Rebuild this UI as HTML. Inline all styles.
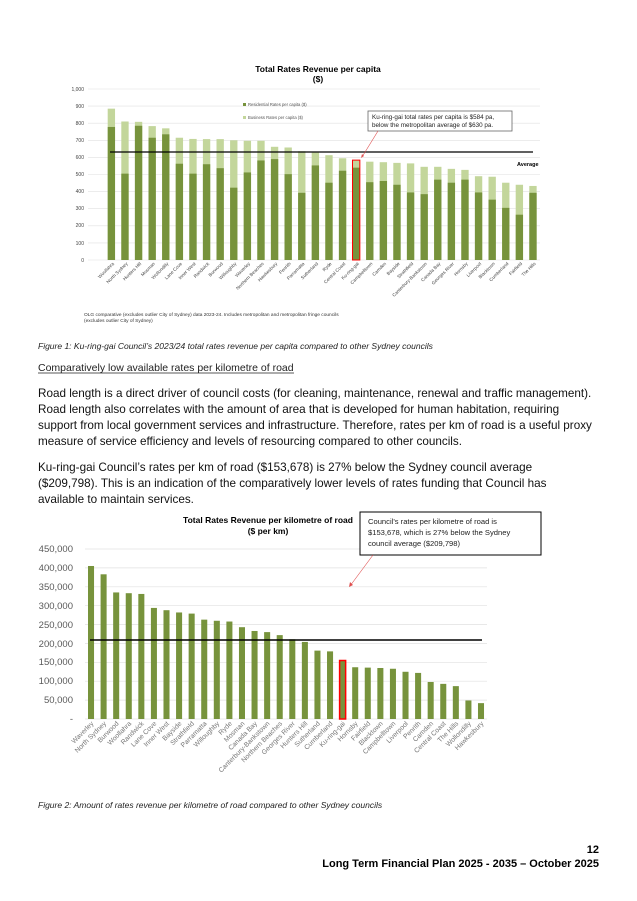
<!DOCTYPE html>
<html><head><meta charset="utf-8"><style>
html,body{margin:0;padding:0;background:#fff}
svg{display:block;font-family:"Liberation Sans",Arial,sans-serif}
</style></head><body>
<svg width="637" height="901" viewBox="0 0 637 901" xmlns="http://www.w3.org/2000/svg">
<!-- Chart 1 -->
<text x="318" y="72" font-size="8.5" font-weight="bold" text-anchor="middle">Total Rates Revenue per capita</text>
<text x="318" y="82" font-size="8.5" font-weight="bold" text-anchor="middle">($)</text>
<g stroke="#e0e0e0" stroke-width="0.6">
<line x1="88" x2="540" y1="89" y2="89"/><line x1="88" x2="540" y1="106.1" y2="106.1"/><line x1="88" x2="540" y1="123.2" y2="123.2"/><line x1="88" x2="540" y1="140.3" y2="140.3"/><line x1="88" x2="540" y1="157.4" y2="157.4"/><line x1="88" x2="540" y1="174.5" y2="174.5"/><line x1="88" x2="540" y1="191.6" y2="191.6"/><line x1="88" x2="540" y1="208.7" y2="208.7"/><line x1="88" x2="540" y1="225.8" y2="225.8"/><line x1="88" x2="540" y1="242.9" y2="242.9"/><line x1="88" x2="540" y1="260" y2="260"/>
</g>
<g font-size="5" fill="#444" text-anchor="end">
<text x="84" y="91">1,000</text><text x="84" y="108">900</text><text x="84" y="125">800</text><text x="84" y="142">700</text><text x="84" y="159">600</text><text x="84" y="176">500</text><text x="84" y="193">400</text><text x="84" y="210">300</text><text x="84" y="227">200</text><text x="84" y="245">100</text><text x="84" y="262">0</text>
</g>
<g transform="translate(107.7 260) scale(13.6 -0.171)">
<g fill="#c3d69b">
<rect x="0" width="0.54" height="885"/><rect x="1" width="0.54" height="810"/><rect x="2" width="0.54" height="808"/><rect x="3" width="0.54" height="783"/><rect x="4" width="0.54" height="770"/><rect x="5" width="0.54" height="715"/><rect x="6" width="0.54" height="708"/><rect x="7" width="0.54" height="707"/><rect x="8" width="0.54" height="707"/><rect x="9" width="0.54" height="700"/><rect x="10" width="0.54" height="697"/><rect x="11" width="0.54" height="697"/><rect x="12" width="0.54" height="662"/><rect x="13" width="0.54" height="658"/><rect x="14" width="0.54" height="636"/><rect x="15" width="0.54" height="628"/><rect x="16" width="0.54" height="613"/><rect x="17" width="0.54" height="595"/><rect x="18" width="0.54" height="584"/><rect x="19" width="0.54" height="575"/><rect x="20" width="0.54" height="572"/><rect x="21" width="0.54" height="568"/><rect x="22" width="0.54" height="565"/><rect x="23" width="0.54" height="545"/><rect x="24" width="0.54" height="545"/><rect x="25" width="0.54" height="533"/><rect x="26" width="0.54" height="527"/><rect x="27" width="0.54" height="490"/><rect x="28" width="0.54" height="487"/><rect x="29" width="0.54" height="452"/><rect x="30" width="0.54" height="440"/><rect x="31" width="0.54" height="433"/>
</g>
<g fill="#77933c">
<rect x="0" width="0.54" height="778"/><rect x="1" width="0.54" height="505"/><rect x="2" width="0.54" height="785"/><rect x="3" width="0.54" height="715"/><rect x="4" width="0.54" height="735"/><rect x="5" width="0.54" height="563"/><rect x="6" width="0.54" height="505"/><rect x="7" width="0.54" height="560"/><rect x="8" width="0.54" height="537"/><rect x="9" width="0.54" height="423"/><rect x="10" width="0.54" height="512"/><rect x="11" width="0.54" height="582"/><rect x="12" width="0.54" height="590"/><rect x="13" width="0.54" height="502"/><rect x="14" width="0.54" height="393"/><rect x="15" width="0.54" height="553"/><rect x="16" width="0.54" height="452"/><rect x="17" width="0.54" height="522"/><rect x="18" width="0.54" height="540"/><rect x="19" width="0.54" height="455"/><rect x="20" width="0.54" height="462"/><rect x="21" width="0.54" height="440"/><rect x="22" width="0.54" height="395"/><rect x="23" width="0.54" height="385"/><rect x="24" width="0.54" height="470"/><rect x="25" width="0.54" height="452"/><rect x="26" width="0.54" height="470"/><rect x="27" width="0.54" height="395"/><rect x="28" width="0.54" height="353"/><rect x="29" width="0.54" height="305"/><rect x="30" width="0.54" height="265"/><rect x="31" width="0.54" height="393"/>
</g>
<rect x="18" width="0.54" height="584" fill="none" stroke="#ff0000" stroke-width="1" vector-effect="non-scaling-stroke"/>
</g>
<line x1="110" x2="533" y1="152" y2="152" stroke="#000" stroke-width="1.2"/>
<text x="517" y="166" font-size="5.5" font-weight="bold">Average</text>
<rect x="243" y="103" width="3" height="3" fill="#77933c"/><text x="248" y="106" font-size="4.2" fill="#555">Residential Rates per capita ($)</text>
<rect x="243" y="116" width="3" height="3" fill="#c3d69b"/><text x="248" y="119" font-size="4.2" fill="#555">Business Rates per capita ($)</text>
<rect x="368" y="111" width="144" height="20" fill="#fff" stroke="#666" stroke-width="0.8"/>
<text x="372" y="119" font-size="6.3" fill="#222">Ku-ring-gai total rates per capita is $584 pa,</text>
<text x="372" y="127" font-size="6.3" fill="#222">below the metropolitan average of $630 pa.</text>
<line x1="378" y1="131" x2="362" y2="157" stroke="#e05050" stroke-width="0.6"/>
<polygon points="361,158 362,154 364,156" fill="#e05050"/>
<g font-size="4.6" fill="#444" text-anchor="end">
<text transform="translate(114.4 264) rotate(-45)">Woollahra</text><text transform="translate(128 264) rotate(-45)">North Sydney</text><text transform="translate(141.6 264) rotate(-45)">Hunters Hill</text><text transform="translate(155.2 264) rotate(-45)">Mosman</text><text transform="translate(168.8 264) rotate(-45)">Wollondilly</text><text transform="translate(182.4 264) rotate(-45)">Lane Cove</text><text transform="translate(196 264) rotate(-45)">Inner West</text><text transform="translate(209.6 264) rotate(-45)">Randwick</text><text transform="translate(223.2 264) rotate(-45)">Burwood</text><text transform="translate(236.8 264) rotate(-45)">Willoughby</text><text transform="translate(250.4 264) rotate(-45)">Waverley</text><text transform="translate(264 264) rotate(-45)">Northern Beaches</text><text transform="translate(277.6 264) rotate(-45)">Hawkesbury</text><text transform="translate(291.2 264) rotate(-45)">Penrith</text><text transform="translate(304.8 264) rotate(-45)">Parramatta</text><text transform="translate(318.4 264) rotate(-45)">Sutherland</text><text transform="translate(332 264) rotate(-45)">Ryde</text><text transform="translate(345.6 264) rotate(-45)">Central Coast</text><text transform="translate(359.2 264) rotate(-45)">Ku-ring-gai</text><text transform="translate(372.8 264) rotate(-45)">Campbelltown</text><text transform="translate(386.4 264) rotate(-45)">Camden</text><text transform="translate(400 264) rotate(-45)">Bayside</text><text transform="translate(413.6 264) rotate(-45)">Strathfield</text><text transform="translate(427.2 264) rotate(-45)">Canterbury-Bankstown</text><text transform="translate(440.8 264) rotate(-45)">Canada Bay</text><text transform="translate(454.4 264) rotate(-45)">Georges River</text><text transform="translate(468 264) rotate(-45)">Hornsby</text><text transform="translate(481.6 264) rotate(-45)">Liverpool</text><text transform="translate(495.2 264) rotate(-45)">Blacktown</text><text transform="translate(508.8 264) rotate(-45)">Cumberland</text><text transform="translate(522.4 264) rotate(-45)">Fairfield</text><text transform="translate(536 264) rotate(-45)">The Hills</text>
</g>
<text x="84" y="316" font-size="4.8" fill="#333">OLG comparative (excludes outlier City of Sydney) data 2023-24. Includes metropolitan and metropolitan fringe councils</text>
<text x="84" y="322" font-size="4.8" fill="#333">(excludes outlier City of Sydney)</text>

<!-- Text -->
<text x="38" y="349" font-size="8.5" font-style="italic" fill="#222">Figure 1: Ku-ring-gai Council’s 2023/24 total rates revenue per capita compared to other Sydney councils</text>
<text x="38" y="371" font-size="10.5" fill="#222">Comparatively low available rates per kilometre of road</text>
<line x1="38" x2="294" y1="373" y2="373" stroke="#222" stroke-width="0.7"/>
<g font-size="11.7" fill="#111">
<text x="38" y="397">Road length is a direct driver of council costs (for cleaning, maintenance, renewal and traffic management).</text>
<text x="38" y="413">Road length also correlates with the amount of area that is developed for human habitation, requiring</text>
<text x="38" y="429">support from local government services and infrastructure. Therefore, rates per km of road is a useful proxy</text>
<text x="38" y="445">measure of service efficiency and levels of resourcing compared to other councils.</text>
<text x="38" y="471">Ku-ring-gai Council’s rates per km of road ($153,678) is 27% below the Sydney council average</text>
<text x="38" y="487">($209,798). This is an indication of the comparatively lower levels of rates funding that Council has</text>
<text x="38" y="503">available to maintain services.</text>
</g>

<!-- Chart 2 -->
<text x="268" y="523" font-size="8.5" font-weight="bold" text-anchor="middle">Total Rates Revenue per kilometre of road</text>
<text x="268" y="534" font-size="8.5" font-weight="bold" text-anchor="middle">($ per km)</text>
<g stroke="#e0e0e0" stroke-width="0.7">
<line x1="85" x2="487" y1="549" y2="549"/><line x1="85" x2="487" y1="567.9" y2="567.9"/><line x1="85" x2="487" y1="586.8" y2="586.8"/><line x1="85" x2="487" y1="605.7" y2="605.7"/><line x1="85" x2="487" y1="624.6" y2="624.6"/><line x1="85" x2="487" y1="643.4" y2="643.4"/><line x1="85" x2="487" y1="662.3" y2="662.3"/><line x1="85" x2="487" y1="681.2" y2="681.2"/><line x1="85" x2="487" y1="700.1" y2="700.1"/><line x1="85" x2="487" y1="719" y2="719"/>
</g>
<g font-size="9.5" fill="#595959" text-anchor="end">
<text x="73" y="552">450,000</text><text x="73" y="571">400,000</text><text x="73" y="590">350,000</text><text x="73" y="609">300,000</text><text x="73" y="628">250,000</text><text x="73" y="647">200,000</text><text x="73" y="665">150,000</text><text x="73" y="684">100,000</text><text x="73" y="703">50,000</text><text x="73" y="722">-</text>
</g>
<g transform="translate(88 719) scale(12.58 -0.3778)" fill="#77933c">
<rect x="0" width="0.48" height="405"/><rect x="1" width="0.48" height="383"/><rect x="2" width="0.48" height="335"/><rect x="3" width="0.48" height="333"/><rect x="4" width="0.48" height="331"/><rect x="5" width="0.48" height="294"/><rect x="6" width="0.48" height="288"/><rect x="7" width="0.48" height="282"/><rect x="8" width="0.48" height="279"/><rect x="9" width="0.48" height="263"/><rect x="10" width="0.48" height="260"/><rect x="11" width="0.48" height="258"/><rect x="12" width="0.48" height="243"/><rect x="13" width="0.48" height="233"/><rect x="14" width="0.48" height="230"/><rect x="15" width="0.48" height="222"/><rect x="16" width="0.48" height="211"/><rect x="17" width="0.48" height="204"/><rect x="18" width="0.48" height="181"/><rect x="19" width="0.48" height="179"/><rect x="20" width="0.48" height="155" stroke="#ff0000" stroke-width="1.5" vector-effect="non-scaling-stroke"/><rect x="21" width="0.48" height="137"/><rect x="22" width="0.48" height="136"/><rect x="23" width="0.48" height="135"/><rect x="24" width="0.48" height="133"/><rect x="25" width="0.48" height="125"/><rect x="26" width="0.48" height="122"/><rect x="27" width="0.48" height="98"/><rect x="28" width="0.48" height="93"/><rect x="29" width="0.48" height="87"/><rect x="30" width="0.48" height="49"/><rect x="31" width="0.48" height="42"/>
</g>
<line x1="90" x2="482" y1="640" y2="640" stroke="#000" stroke-width="1.5"/>
<rect x="360" y="512" width="181" height="43" fill="#fff" stroke="#000" stroke-width="1"/>
<g font-size="7.6" fill="#222">
<text x="368" y="524">Council's rates per kilometre of road is</text>
<text x="368" y="535">$153,678, which is 27% below the Sydney</text>
<text x="368" y="546">council average ($209,798)</text>
</g>
<line x1="373" y1="555" x2="350" y2="586" stroke="#e05050" stroke-width="0.6"/>
<polygon points="349,587 350,582 353,585" fill="#e05050"/>
<g font-size="6.8" fill="#777" text-anchor="end">
<text transform="translate(94 724) rotate(-45)">Waverley</text><text transform="translate(106.6 724) rotate(-45)">North Sydney</text><text transform="translate(119.2 724) rotate(-45)">Burwood</text><text transform="translate(131.7 724) rotate(-45)">Woollahra</text><text transform="translate(144.3 724) rotate(-45)">Randwick</text><text transform="translate(156.9 724) rotate(-45)">Lane Cove</text><text transform="translate(169.5 724) rotate(-45)">Inner West</text><text transform="translate(182.1 724) rotate(-45)">Bayside</text><text transform="translate(194.6 724) rotate(-45)">Strathfield</text><text transform="translate(207.2 724) rotate(-45)">Parramatta</text><text transform="translate(219.8 724) rotate(-45)">Willoughby</text><text transform="translate(232.4 724) rotate(-45)">Ryde</text><text transform="translate(245 724) rotate(-45)">Mosman</text><text transform="translate(257.5 724) rotate(-45)">Canada Bay</text><text transform="translate(270.1 724) rotate(-45)">Canterbury-Bankstown</text><text transform="translate(282.7 724) rotate(-45)">Northern Beaches</text><text transform="translate(295.3 724) rotate(-45)">Georges River</text><text transform="translate(307.9 724) rotate(-45)">Hunters Hill</text><text transform="translate(320.4 724) rotate(-45)">Sutherland</text><text transform="translate(333 724) rotate(-45)">Cumberland</text><text transform="translate(345.6 724) rotate(-45)">Ku-ring-gai</text><text transform="translate(358.2 724) rotate(-45)">Hornsby</text><text transform="translate(370.8 724) rotate(-45)">Fairfield</text><text transform="translate(383.3 724) rotate(-45)">Blacktown</text><text transform="translate(395.9 724) rotate(-45)">Campbelltown</text><text transform="translate(408.5 724) rotate(-45)">Liverpool</text><text transform="translate(421.1 724) rotate(-45)">Penrith</text><text transform="translate(433.7 724) rotate(-45)">Camden</text><text transform="translate(446.2 724) rotate(-45)">Central Coast</text><text transform="translate(458.8 724) rotate(-45)">The Hills</text><text transform="translate(471.4 724) rotate(-45)">Wollondilly</text><text transform="translate(484 724) rotate(-45)">Hawkesbury</text>
</g>
<text x="38" y="808" font-size="8.5" font-style="italic" fill="#222">Figure 2: Amount of rates revenue per kilometre of road compared to other Sydney councils</text>
<text x="599" y="853" font-size="11" font-weight="bold" text-anchor="end">12</text>
<text x="599" y="867" font-size="11" font-weight="bold" text-anchor="end">Long Term Financial Plan 2025 - 2035 – October 2025</text>
</svg>
</body></html>
